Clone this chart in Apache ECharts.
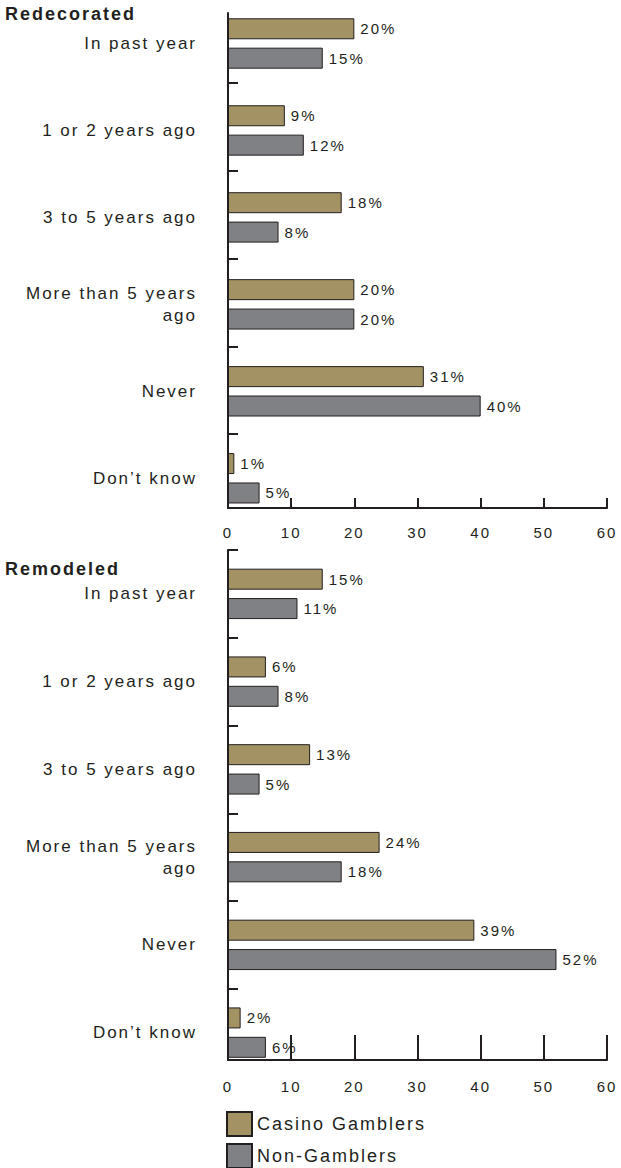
<!DOCTYPE html>
<html><head><meta charset="utf-8">
<script src="https://cdn.jsdelivr.net/npm/echarts@6/dist/echarts.min.js"></script>
<style>
html,body{margin:0;padding:0;background:#fff;}
#chart{width:621px;height:1168px;letter-spacing:2px;}
</style></head>
<body><div id="chart"></div>
<script>
// ---- data ----
const categories = ['In past year', '1 or 2 years ago', '3 to 5 years ago', 'More than 5 years\nago', 'Never', 'Don\u2019t know'];
const seriesNames = ['Casino Gamblers', 'Non-Gamblers'];
const sectionTitles = ['Redecorated', 'Remodeled'];
const redecoratedCasino = [20, 9, 18, 20, 31, 1];
const redecoratedNon = [15, 12, 8, 20, 40, 5];
const remodeledCasino = [15, 6, 13, 24, 39, 2];
const remodeledNon = [11, 8, 5, 18, 52, 6];
const xMin = 0, xMax = 60, xStep = 10;

// ---- styles / layout ----
const FONT = "'Liberation Sans', Arial, sans-serif";
const INK = '#231f20';
const GOLD = '#a39263';
const GRAY = '#808184';
const L = 228, W = 379, BAND = 87.75;

const grids = [
  {left: L, width: W, top: 83 - BAND, height: 6 * BAND},   // bars, chart 1
  {left: L, width: W, top: 13, height: 495},               // frame, chart 1
  {left: L, width: W, top: 550, height: 6 * BAND},         // bars, chart 2
  {left: L, width: W, top: 550, height: 510}               // frame, chart 2
];

function hiddenX(g) {
  return {gridIndex: g, type: 'value', min: xMin, max: xMax, show: false};
}
function frameX(g, tickLen, margin) {
  return {
    gridIndex: g, type: 'value', min: xMin, max: xMax, interval: xStep,
    axisLine: {show: true, onZero: false, lineStyle: {color: INK, width: 2}},
    axisTick: {show: true, inside: true, length: tickLen, lineStyle: {color: INK, width: 2}},
    axisLabel: {show: true, margin: margin, fontSize: 15, color: INK, fontFamily: FONT},
    splitLine: {show: false}
  };
}
function catY(g) {
  return {
    gridIndex: g, type: 'category', data: categories, inverse: true,
    axisLine: {show: false}, axisTick: {show: false}, splitLine: {show: false},
    axisLabel: {show: true, margin: 31, fontSize: 17, lineHeight: 22, color: INK, fontFamily: FONT, align: 'right'}
  };
}
function frameY(g, top, height, ticks) {
  const lo = (top - grids[g - 1].top) / BAND;
  const hi = (top + height - grids[g - 1].top) / BAND;
  return {
    gridIndex: g, type: 'value', inverse: true, min: lo, max: hi,
    axisLine: {show: true, onZero: false, lineStyle: {color: INK, width: 2}},
    axisTick: {show: true, inside: true, length: 10, customValues: ticks, lineStyle: {color: INK, width: 2}},
    axisLabel: {show: false}, splitLine: {show: false}
  };
}
function barSeries(name, data, xi, color) {
  return {
    name: name, type: 'bar', xAxisIndex: xi, yAxisIndex: xi, data: data,
    barWidth: 21, barGap: '40%',
    itemStyle: {color: color, borderColor: INK, borderWidth: 1},
    label: {show: true, position: 'right', distance: 6, formatter: '{c}%', fontSize: 15, color: INK, fontFamily: FONT}
  };
}
function legendItem(name, top) {
  return {
    data: [name], orient: 'vertical', left: 226, top: top, padding: 0,
    itemWidth: 25, itemHeight: 24, itemGap: 6, icon: 'rect',
    textStyle: {fontSize: 18, color: INK, fontFamily: FONT}
  };
}

const chart = echarts.init(document.getElementById('chart'), null, {renderer: 'svg'});
chart.setOption({
  animation: false,
  backgroundColor: '#fff',
  textStyle: {fontFamily: FONT},
  title: [
    {text: sectionTitles[0], left: 5, top: 5, padding: 0, textStyle: {fontSize: 18, fontWeight: 'bold', color: INK, fontFamily: FONT}},
    {text: sectionTitles[1], left: 5, top: 560, padding: 0, textStyle: {fontSize: 18, fontWeight: 'bold', color: INK, fontFamily: FONT}}
  ],
  legend: [legendItem(seriesNames[0], 1111), legendItem(seriesNames[1], 1143)],
  grid: grids,
  xAxis: [hiddenX(0), frameX(1, 10, 17), hiddenX(2), frameX(3, 25, 19)],
  yAxis: [catY(0), frameY(1, 13, 495, [1, 2, 3, 4, 5]), catY(2), frameY(3, 550, 510, [0, 1, 2, 3, 4, 5])],
  series: [
    barSeries(seriesNames[0], redecoratedCasino, 0, GOLD),
    barSeries(seriesNames[1], redecoratedNon, 0, GRAY),
    barSeries(seriesNames[0], remodeledCasino, 2, GOLD),
    barSeries(seriesNames[1], remodeledNon, 2, GRAY)
  ]
});
</script>
</body></html>
